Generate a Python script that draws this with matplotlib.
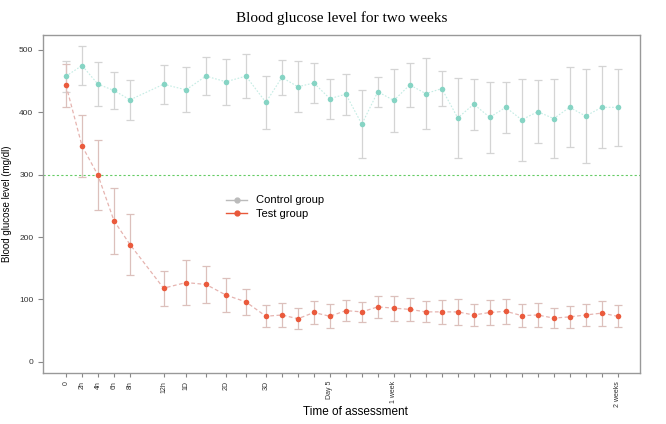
import matplotlib
matplotlib.use('Agg')
import matplotlib.pyplot as plt
from matplotlib.lines import Line2D

# Time points (axis slots, non-linear spacing as in the original)
time_pos = [0, 1, 2, 3, 4, 6.1, 7.5, 8.75, 10, 11.25, 12.5,
            13.5, 14.5, 15.5, 16.5, 17.5, 18.5, 19.5, 20.5, 21.5, 22.5, 23.5,
            24.5, 25.5, 26.5, 27.5, 28.5, 29.5, 30.5, 31.5, 32.5, 33.5, 34.5]
tick_labels = ["0", "2h", "4h", "6h", "8h", "12h", "1D", "", "2D", "", "3D",
               "", "", "", "Day 5", "", "", "", "1 week", "", "", "",
               "", "", "", "", "", "", "", "", "", "", "2 weeks"]

# Control group mean and SD (mg/dl)
control = [458, 475, 445, 435, 420, 445, 436, 458, 449, 458, 416,
           456, 441, 447, 422, 429, 381, 433, 419, 444, 430, 438,
           391, 413, 392, 408, 388, 401, 390, 408, 394, 408, 408]
control_sd = [25, 31, 35, 30, 32, 31, 36, 30, 37, 35, 42,
              28, 41, 32, 32, 33, 54, 24, 50, 35, 57, 28,
              64, 41, 57, 41, 66, 51, 63, 64, 75, 66, 62]

# Test group mean and SD (mg/dl)
test = [443, 346, 299, 226, 188, 118, 127, 124, 107, 96, 73,
        75, 69, 79, 73, 82, 80, 88, 86, 84, 80, 80,
        80, 75, 79, 81, 74, 75, 70, 72, 75, 78, 73]
test_sd = [35, 50, 56, 53, 49, 28, 36, 30, 28, 21, 18,
           20, 17, 19, 19, 17, 16, 18, 20, 18, 17, 19,
           21, 18, 20, 20, 18, 19, 16, 18, 18, 20, 18]

threshold = 300

fig = plt.figure(figsize=(6.66, 4.24), dpi=100)
ax = fig.add_axes([0.0646, 0.1203, 0.8964, 0.7972])

ax.axhline(threshold, color='#66cc66', lw=0.8, ls=(0, (2, 2)), zorder=1)

# control
ax.errorbar(time_pos, control, yerr=control_sd, fmt='none', ecolor='#d4d4d4',
            elinewidth=0.9, capsize=3, capthick=0.9, zorder=2)
ax.plot(time_pos, control, color='#c4ece4', lw=0.8, ls=(0, (1.5, 1.5)), zorder=3)
ax.plot(time_pos, control, 'o', color='#86d4c4', ms=4, mec='none', zorder=4)

# test
ax.errorbar(time_pos, test, yerr=test_sd, fmt='none', ecolor='#dcc0bc',
            elinewidth=0.9, capsize=3, capthick=0.9, zorder=2)
ax.plot(time_pos, test, color='#e6b4b0', lw=0.9, ls=(0, (3, 2)), zorder=3)
ax.plot(time_pos, test, 'o', color='#ea5a3c', ms=4, mec='none', zorder=4)

ax.set_xlim(-1.44, 35.9)
ax.set_ylim(-18, 524)
ax.set_xticks(time_pos)
ax.set_xticklabels(tick_labels, rotation=90, fontsize=5, family='Liberation Sans')
ax.set_yticks([0, 100, 200, 300, 400, 500])
ax.tick_params(axis='y', labelsize=6, colors='#888888', labelcolor='#333333', length=3.5, width=0.8)
ax.tick_params(axis='x', colors='#888888', labelcolor='#333333', length=3, width=0.8, pad=2.5)
for lab in ax.get_yticklabels():
    lab.set_family('Liberation Sans')
for sp in ax.spines.values():
    sp.set_color('#999999')
    sp.set_linewidth(1.0)

ax.set_ylabel('Blood glucose level (mg/dl)', fontsize=7, family='Liberation Sans')
ax.yaxis.set_label_coords(-0.052, 0.5)
ax.set_xlabel('Time of assessment', fontsize=8.5, family='Liberation Sans', va='center')
ax.xaxis.set_label_coords(0.523, -0.116)
ax.set_title('Blood glucose level for two weeks', fontsize=11, family='Liberation Serif', pad=9)

handles = [Line2D([0], [0], color='#bbbbbb', marker='o', ms=3.5, lw=1),
           Line2D([0], [0], color='#e8583a', marker='o', ms=3.5, lw=1)]
ax.legend(handles, ['Control group', 'Test group'], loc='upper left',
          bbox_to_anchor=(0.29, 0.555), frameon=False,
          prop={'family': 'Liberation Sans', 'size': 8}, handlelength=1.9,
          labelspacing=0.3)

fig.savefig('out.png', dpi=100)
